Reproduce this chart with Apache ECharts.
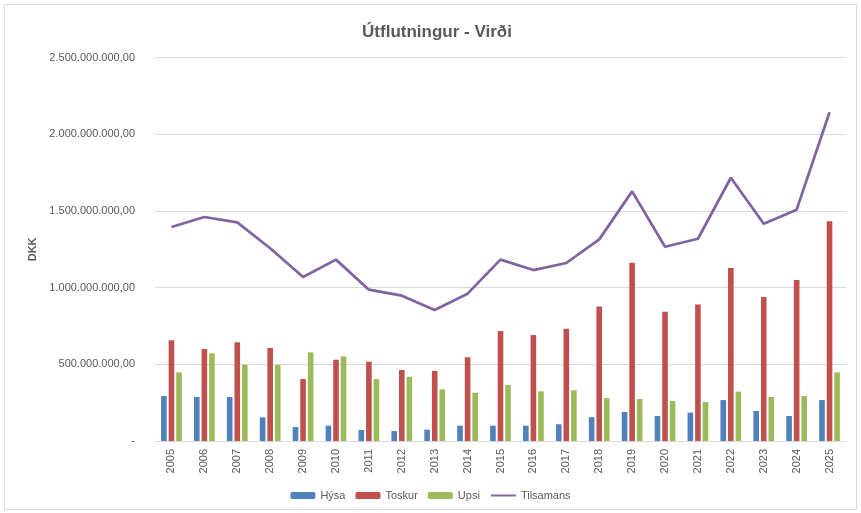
<!DOCTYPE html>
<html>
<head>
<meta charset="utf-8">
<script src="https://cdn.jsdelivr.net/npm/echarts@6/dist/echarts.min.js"></script>
<style>
  html, body { margin: 0; padding: 0; background: #fff; }
  #main { width: 861px; height: 513px; }
</style>
</head>
<body>
<div id="main"></div>
<script>
// ár
var years = ['2005','2006','2007','2008','2009','2010','2011','2012','2013','2014','2015',
             '2016','2017','2018','2019','2020','2021','2022','2023','2024','2025'];
// virði í milljónum DKK (lesið af myndinni)
var hysa = [293, 287, 287, 154, 91, 100, 72, 65, 74, 100, 100,
            100, 109, 155, 189, 163, 185, 267, 196, 163, 267];
var toskur = [657, 600, 644, 607, 404, 530, 517, 463, 457, 546, 717,
              691, 732, 878, 1163, 843, 891, 1128, 939, 1050, 1433];
var upsi = [448, 572, 496, 496, 578, 552, 404, 419, 337, 315, 365,
            324, 331, 280, 274, 261, 254, 322, 287, 294, 448];
var tilsamans = [1396, 1461, 1426, 1257, 1070, 1183, 987, 948, 854, 961, 1183,
                 1115, 1161, 1315, 1628, 1267, 1319, 1717, 1417, 1509, 2144];

function mill(arr) { return arr.map(function (v) { return v * 1000000; }); }

function fmt(v) {
    if (v === 0) return '-';
    var s = String(Math.round(v)).replace(/\B(?=(\d{3})+(?!\d))/g, '.');
    return s + ',00';
}

var fontF = '"Liberation Sans", Arial, sans-serif';
var txt = '#595959';

var myChart = echarts.init(document.getElementById('main'));
myChart.setOption({
    backgroundColor: '#fff',
    animation: false,
    textStyle: { fontFamily: fontF },
    title: {
        text: 'Útflutningur - Virði',
        left: 432,
        textAlign: 'center',
        top: 19,
        textStyle: { fontSize: 17, fontWeight: 'bold', color: txt, fontFamily: fontF }
    },
    graphic: [{
        type: 'rect',
        shape: { x: 4.5, y: 4.5, width: 852, height: 505 },
        style: { fill: 'none', stroke: '#d9d9d9', lineWidth: 1 },
        silent: true
    }],
    grid: {
        left: 155,
        right: 15,
        top: 57.7,
        bottom: 72
    },
    legend: {
        bottom: 7,
        left: 'center',
        itemWidth: 25,
        itemHeight: 7,
        itemGap: 10,
        textStyle: { fontSize: 11, color: txt, fontFamily: fontF },
        data: ['Hýsa', 'Toskur', 'Upsi', { name: 'Tilsamans', itemStyle: { opacity: 0 } }]
    },
    xAxis: [{
        type: 'category',
        data: years,
        axisLabel: {
            rotate: 90,
            margin: 8,
            color: txt,
            fontSize: 11,
            interval: 0
        },
        axisLine: { lineStyle: { color: '#d9d9d9' } },
        axisTick: { show: false }
    }],
    yAxis: [{
        type: 'value',
        min: 0,
        max: 2500000000,
        interval: 500000000,
        name: 'DKK',
        nameLocation: 'middle',
        nameGap: 115,
        nameTextStyle: { fontWeight: 'bold', fontSize: 11, color: txt },
        axisLabel: {
            formatter: fmt,
            color: txt,
            fontSize: 11,
            margin: 20
        },
        axisLine: { show: false },
        axisTick: { show: false },
        splitLine: { lineStyle: { color: '#d9d9d9' } }
    }],
    series: [{
        name: 'Hýsa',
        type: 'bar',
        data: mill(hysa),
        barWidth: 5.6,
        barGap: '35%',
        itemStyle: { color: '#4F81BD' }
    }, {
        name: 'Toskur',
        type: 'bar',
        data: mill(toskur),
        barWidth: 5.6,
        barGap: '35%',
        itemStyle: { color: '#C0504D' }
    }, {
        name: 'Upsi',
        type: 'bar',
        data: mill(upsi),
        barWidth: 5.6,
        barGap: '35%',
        itemStyle: { color: '#9BBB59' }
    }, {
        name: 'Tilsamans',
        type: 'line',
        data: mill(tilsamans),
        symbol: 'none',
        lineStyle: { color: '#8064A2', width: 2.75 },
        itemStyle: { color: '#8064A2' }
    }]
});
</script>
</body>
</html>
